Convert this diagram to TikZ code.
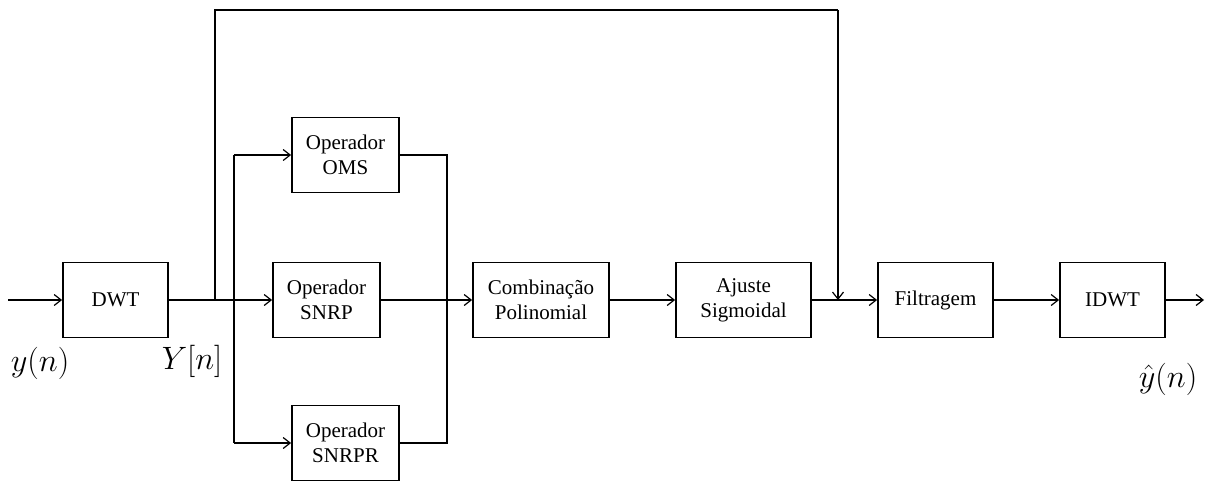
\documentclass[tikz,border=0pt]{standalone}
\usepackage{fontspec}
\setmainfont{Liberation Serif}
\usetikzlibrary{arrows.meta}
\newcommand{\biglbl}[1]{\scalebox{1.3}{\fontsize{24}{24}\selectfont$#1$}}
\begin{document}
\begin{tikzpicture}[x=1pt,y=-1pt,
  blk/.style={draw, line width=1.8pt, minimum width=#1, minimum height=75pt, inner sep=0pt, align=center,
    font=\fontsize{21}{25}\selectfont},
  blk/.default=105pt,
  ln/.style={line width=1.2pt},
  arr/.style={ln, -{Straight Barb[length=7pt,width=11pt,line width=1.2pt]}},
  lbl/.style={inner sep=0pt}]
\useasboundingbox (0,0) rectangle (1212,483);
\node[blk=105pt] (dwt) at (115.5,300) {DWT};
\node[blk=107pt] (oms) at (345.5,155) {Operador\\OMS};
\node[blk=107pt] (snrp) at (326.5,300) {Operador\\SNRP};
\node[blk=107pt] (snrpr) at (345.5,443) {Operador\\SNRPR};
\node[blk=136pt] (comb) at (541,300) {Combinação\\Polinomial};
\node[blk=135pt] (aj) at (743.5,300) {Ajuste\\Sigmoidal};
\node[blk=115pt] (filt) at (935.5,300) {Filtragem};
\node[blk=105pt] (idwt) at (1112.5,300) {IDWT};
\coordinate (in) at (8,300);
\coordinate (out) at (1204,300);
\coordinate (br) at (215,300);
\coordinate (fb) at (838,300);
\node[lbl] (ly) at (40,363) {\biglbl{y(n)}};
\node[lbl] (lY) at (192,361) {\biglbl{Y[n]}};
\node[lbl] (lyh) at (1168,379) {\biglbl{\hat{y}(n)}};
\draw[arr] (in) -- (dwt);
\draw[arr] (dwt) -- (snrp);
\draw[ln] (br) -- (215,10) -- (838,10);
\draw[arr] (838,10) -- (fb);
\draw[arr] (234,155) -- (oms);
\draw[arr] (234,443) -- (snrpr);
\draw[ln] (234,155) -- (234,443);
\draw[ln] (oms.east) -- (447,155) -- (447,443) -- (snrpr.east);
\draw[arr] (snrp) -- (comb);
\draw[arr] (comb) -- (aj);
\draw[arr] (aj) -- (filt);
\draw[arr] (filt) -- (idwt);
\draw[arr] (idwt) -- (out);
\end{tikzpicture}
\end{document}
